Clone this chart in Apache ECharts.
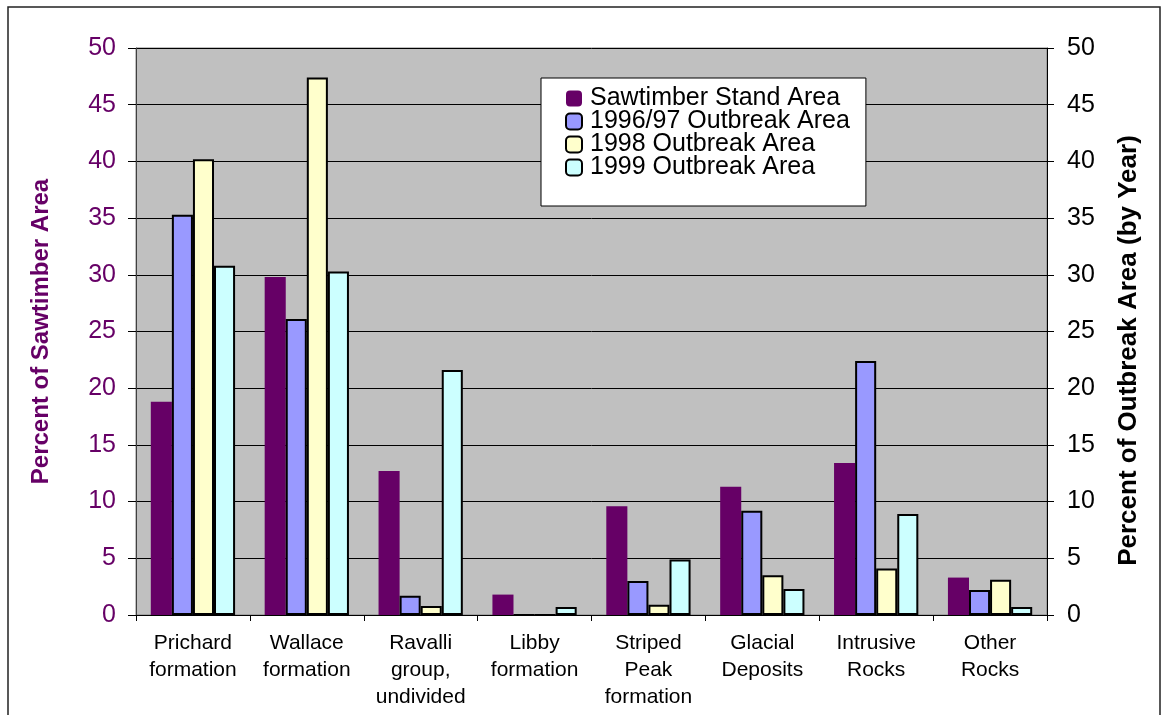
<!DOCTYPE html>
<html>
<head>
<meta charset="utf-8">
<script src="https://cdn.jsdelivr.net/npm/echarts@6/dist/echarts.min.js"></script>
<style>
  html, body { margin: 0; padding: 0; background: #fff; }
  #chart { width: 1166px; height: 715px; }
</style>
</head>
<body>
<div id="chart"></div>
<script>
// categories (line breaks as in the original)
const categories = [
    'Prichard\nformation',
    'Wallace\nformation',
    'Ravalli\ngroup,\nundivided',
    'Libby\nformation',
    'Striped\nPeak\nformation',
    'Glacial\nDeposits',
    'Intrusive\nRocks',
    'Other\nRocks'
];

const sawtimber = [18.8, 29.8, 12.7, 1.8, 9.6, 11.3, 13.4, 3.3];
const outbreak9697 = [35.3, 26.1, 1.7, 0, 3.0, 9.2, 22.4, 2.2];
const outbreak1998 = [40.2, 47.4, 0.8, 0, 0.9, 3.5, 4.1, 3.1];
const outbreak1999 = [30.8, 30.3, 21.6, 0.7, 4.9, 2.3, 8.9, 0.7];

const axisTicks = [0, 5, 10, 15, 20, 25, 30, 35, 40, 45, 50];

const font = 'Arial, "Liberation Sans", sans-serif';

function outlined(color) {
    return { color: color, borderColor: '#000', borderWidth: 2 };
}

const chart = echarts.init(document.getElementById('chart'));
chart.setOption({
    animation: false,
    textStyle: { fontFamily: font },
    graphic: [
        {
            type: 'rect',
            shape: { x: 8, y: 7, width: 1152, height: 760 },
            style: { fill: 'none', stroke: '#222', lineWidth: 1.5 },
            silent: true
        }
    ],
    grid: {
        left: 136,
        right: 119,
        top: 48,
        bottom: 100,
        show: true,
        backgroundColor: '#C0C0C0',
        borderColor: '#808080',
        borderWidth: 1
    },
    legend: {
        orient: 'vertical',
        left: 541,
        top: 78,
        backgroundColor: '#fff',
        borderColor: '#000',
        borderWidth: 1,
        padding: [8, 16, 26, 24],
        itemWidth: 16,
        itemHeight: 16,
        itemGap: -2,
        textStyle: { fontSize: 25, color: '#000', lineHeight: 22.5, fontFamily: font, padding: [0, 0, 0, 3] },
        data: ['Sawtimber Stand Area', '1996/97 Outbreak Area', '1998 Outbreak Area', '1999 Outbreak Area']
    },
    xAxis: {
        type: 'category',
        data: categories,
        axisLine: { lineStyle: { color: '#000', width: 1 } },
        axisTick: { show: true, length: 6, lineStyle: { color: '#000' } },
        axisLabel: {
            interval: 0,
            fontSize: 21,
            lineHeight: 27,
            color: '#000',
            margin: 15
        }
    },
    yAxis: [
        {
            type: 'value',
            position: 'left',
            min: axisTicks[0],
            max: axisTicks[axisTicks.length - 1],
            interval: 5,
            name: 'Percent of Sawtimber Area',
            nameLocation: 'middle',
            nameGap: 83,
            nameTextStyle: { fontSize: 24, fontWeight: 'bold', color: '#660066' },
            axisLine: { show: true, lineStyle: { color: '#404040', width: 1 } },
            axisTick: { show: true, length: 8, lineStyle: { color: '#000' } },
            axisLabel: { fontSize: 25, color: '#660066', margin: 20 },
            splitLine: { show: true, lineStyle: { color: '#000', width: 1 } }
        },
        {
            type: 'value',
            position: 'right',
            min: axisTicks[0],
            max: axisTicks[axisTicks.length - 1],
            interval: 5,
            name: 'Percent of Outbreak Area (by Year)',
            nameLocation: 'middle',
            nameGap: 69,
            nameRotate: 90,
            nameTextStyle: { fontSize: 26, fontWeight: 'bold', color: '#000', padding: [0, 38, 0, 0] },
            axisLine: { show: true, lineStyle: { color: '#000', width: 1 } },
            axisTick: { show: true, length: 7, lineStyle: { color: '#000' } },
            axisLabel: { fontSize: 25, color: '#000', margin: 20 },
            splitLine: { show: false }
        }
    ],
    series: [
        {
            name: 'Sawtimber Stand Area',
            type: 'bar',
            yAxisIndex: 0,
            data: sawtimber,
            barGap: '0%',
            barCategoryGap: '26%',
            itemStyle: { color: '#660066' }
        },
        {
            name: '1996/97 Outbreak Area',
            type: 'bar',
            yAxisIndex: 1,
            data: outbreak9697,
            barGap: '0%',
            barCategoryGap: '26%',
            itemStyle: outlined('#9999FF')
        },
        {
            name: '1998 Outbreak Area',
            type: 'bar',
            yAxisIndex: 1,
            data: outbreak1998,
            barGap: '0%',
            barCategoryGap: '26%',
            itemStyle: outlined('#FFFFCC')
        },
        {
            name: '1999 Outbreak Area',
            type: 'bar',
            yAxisIndex: 1,
            data: outbreak1999,
            barGap: '0%',
            barCategoryGap: '26%',
            itemStyle: outlined('#CCFFFF')
        }
    ]
});
</script>
</body>
</html>
